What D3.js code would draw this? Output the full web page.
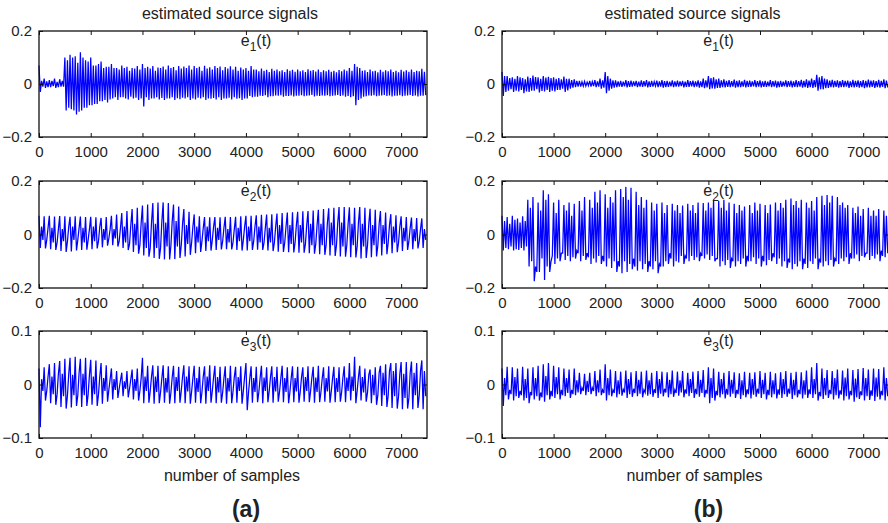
<!DOCTYPE html>
<html>
<head>
<meta charset="utf-8">
<script src="https://cdn.jsdelivr.net/npm/d3@7"></script>
<style>
  body { margin: 0; background: #fff; }
  text { font-family: "Liberation Sans", Arial, sans-serif; fill: #222; }
</style>
</head>
<body>
<script>
// Size of the page
var width = 888,
    height = 523;

// Sample axis ticks
var xTicks = [0, 1000, 2000, 3000, 4000, 5000, 6000, 7000];

// Peaks (hi), troughs (lo), inner swings (mid, dip) of each signal, one set per 100 samples
var e1aHi = [0.07,0.02,0.015,0.02,0.018,0.1,0.11,0.105,0.12,0.09,0.1,0.07,0.085,0.065,0.075,0.06,0.07,0.065,0.06,0.068,
  0.075,0.065,0.068,0.062,0.066,0.07,0.064,0.068,0.066,0.07,0.068,0.065,0.069,0.063,0.068,0.066,0.064,0.067,0.065,0.062,
  0.06,0.068,0.055,0.058,0.054,0.057,0.055,0.052,0.056,0.054,0.055,0.052,0.056,0.053,0.055,0.052,0.054,0.05,0.053,0.055,
  0.06,0.075,0.06,0.052,0.055,0.05,0.054,0.052,0.055,0.05,0.054,0.052,0.055,0.05,0.057];
var e1aLo = [-0.03,-0.015,-0.012,-0.015,-0.01,-0.1,-0.095,-0.115,-0.1,-0.09,-0.08,-0.075,-0.065,-0.07,-0.055,-0.06,-0.05,-0.058,-0.055,-0.06,
  -0.085,-0.06,-0.055,-0.058,-0.06,-0.055,-0.06,-0.057,-0.055,-0.06,-0.058,-0.055,-0.06,-0.056,-0.058,-0.06,-0.055,-0.058,-0.056,-0.06,
  -0.055,-0.05,-0.048,-0.045,-0.05,-0.046,-0.044,-0.048,-0.045,-0.047,-0.044,-0.046,-0.043,-0.047,-0.045,-0.044,-0.046,-0.043,-0.045,-0.048,
  -0.05,-0.08,-0.055,-0.046,-0.044,-0.046,-0.043,-0.045,-0.047,-0.044,-0.046,-0.043,-0.045,-0.047,-0.044];
var e1aMid = [0.012,0.01,0.012,0.008,0.012,0.09,0.1,0.08,0.1,0.085,0.07,0.075,0.06,0.065,0.06,
  0.055,0.06,0.05,0.058,0.055,0.06,0.058,0.05,0.06,0.055,0.06,0.052,0.058,0.06,0.055,0.06,0.05,0.058,0.055,0.06,0.052,0.058,0.055,0.05,0.055,
  0.05,0.055,0.048,0.05,0.045,0.05,0.048,0.045,0.05,0.046,0.048,0.045,0.05,0.047,0.045,0.048,0.046,0.044,0.048,0.05,
  0.05,0.065,0.05,0.045,0.048,0.044,0.046,0.048,0.045,0.044,0.047,0.046,0.045,0.048,0.046];
var e1aDip = [-0.01,-0.012,-0.008,-0.012,-0.01,-0.09,-0.1,-0.105,-0.09,-0.08,-0.075,-0.065,-0.06,-0.058,-0.05,
  -0.05,-0.055,-0.048,-0.052,-0.055,-0.05,-0.055,-0.05,-0.053,-0.055,-0.05,-0.054,-0.052,-0.05,-0.055,-0.052,-0.05,-0.055,-0.053,-0.05,-0.055,-0.052,-0.05,-0.054,-0.055,
  -0.045,-0.048,-0.044,-0.042,-0.046,-0.043,-0.042,-0.045,-0.043,-0.044,-0.042,-0.044,-0.041,-0.044,-0.043,-0.042,-0.044,-0.041,-0.043,-0.045,
  -0.046,-0.06,-0.048,-0.043,-0.042,-0.044,-0.041,-0.043,-0.044,-0.042,-0.044,-0.041,-0.043,-0.044,-0.042];

var e1bHi = [0.045,0.03,0.025,0.03,0.022,0.028,0.032,0.025,0.03,0.027,0.025,0.022,0.028,0.02,0.018,0.012,0.01,0.012,0.015,0.02,
  0.045,0.02,0.014,0.012,0.015,0.013,0.012,0.014,0.015,0.012,0.013,0.015,0.012,0.014,0.013,0.012,0.015,0.013,0.014,0.02,
  0.03,0.025,0.02,0.018,0.015,0.017,0.014,0.016,0.013,0.015,0.014,0.012,0.015,0.013,0.012,0.014,0.013,0.015,0.016,0.018,
  0.02,0.035,0.03,0.018,0.016,0.014,0.015,0.013,0.016,0.014,0.015,0.017,0.014,0.016,0.018];
var e1bLo = [-0.045,-0.025,-0.03,-0.028,-0.035,-0.03,-0.025,-0.032,-0.028,-0.03,-0.028,-0.022,-0.03,-0.018,-0.012,-0.01,-0.008,-0.01,-0.012,-0.018,
  -0.035,-0.018,-0.012,-0.011,-0.013,-0.01,-0.012,-0.011,-0.013,-0.01,-0.012,-0.014,-0.011,-0.012,-0.01,-0.013,-0.011,-0.012,-0.014,-0.016,
  -0.02,-0.018,-0.015,-0.013,-0.012,-0.014,-0.012,-0.013,-0.011,-0.012,-0.013,-0.011,-0.012,-0.014,-0.011,-0.012,-0.013,-0.012,-0.014,-0.015,
  -0.015,-0.025,-0.02,-0.015,-0.013,-0.014,-0.012,-0.015,-0.013,-0.014,-0.016,-0.013,-0.015,-0.014,-0.016];
var e1bMid = [0.03,0.022,0.02,0.025,0.018,0.022,0.026,0.02,0.024,0.022,0.02,0.018,0.02,0.015,0.012,
  0.008,0.007,0.009,0.01,0.014,
  0.03,0.014,0.01,0.009,0.011,0.01,0.009,0.011,0.01,0.009,0.01,0.011,0.009,0.01,0.01,0.009,0.011,0.01,0.01,0.014,
  0.022,0.018,0.014,0.012,0.011,0.012,0.01,0.012,0.01,0.011,0.01,0.009,0.011,0.01,0.009,0.011,0.01,0.011,0.012,0.013,
  0.015,0.025,0.02,0.013,0.012,0.011,0.012,0.01,0.012,0.011,0.012,0.013,0.011,0.012,0.013];
var e1bDip = [-0.03,-0.02,-0.025,-0.022,-0.028,-0.025,-0.02,-0.026,-0.022,-0.025,-0.022,-0.018,-0.024,-0.014,-0.01,
  -0.008,-0.006,-0.008,-0.01,-0.014,
  -0.025,-0.014,-0.01,-0.009,-0.011,-0.008,-0.01,-0.009,-0.011,-0.008,-0.01,-0.012,-0.009,-0.01,-0.008,-0.011,-0.009,-0.01,-0.012,-0.013,
  -0.017,-0.015,-0.012,-0.011,-0.01,-0.012,-0.01,-0.011,-0.009,-0.01,-0.011,-0.009,-0.01,-0.012,-0.009,-0.01,-0.011,-0.01,-0.012,-0.012,
  -0.012,-0.02,-0.016,-0.012,-0.011,-0.012,-0.01,-0.012,-0.011,-0.012,-0.013,-0.011,-0.012,-0.011,-0.013];

var e2aHi = [0.07,0.068,0.07,0.067,0.069,0.068,0.066,0.068,0.067,0.065,0.066,0.064,0.062,0.065,0.07,0.075,0.08,0.088,0.095,0.1,
  0.108,0.112,0.118,0.12,0.12,0.118,0.112,0.105,0.095,0.085,0.075,0.068,0.065,0.064,0.065,0.064,0.066,0.065,0.066,0.068,
  0.07,0.07,0.072,0.074,0.075,0.076,0.078,0.08,0.082,0.083,0.085,0.087,0.088,0.09,0.092,0.095,0.098,0.1,0.103,0.103,
  0.102,0.1,0.103,0.1,0.096,0.092,0.088,0.082,0.076,0.072,0.068,0.065,0.063,0.062,0.06];
var e2aLo = [-0.05,-0.052,-0.055,-0.058,-0.062,-0.065,-0.063,-0.06,-0.058,-0.057,-0.055,-0.052,-0.048,-0.042,-0.04,-0.045,-0.05,-0.058,-0.065,-0.072,
  -0.078,-0.083,-0.088,-0.091,-0.093,-0.093,-0.092,-0.088,-0.082,-0.076,-0.07,-0.065,-0.062,-0.06,-0.058,-0.056,-0.055,-0.056,-0.058,-0.06,
  -0.06,-0.058,-0.057,-0.058,-0.06,-0.062,-0.064,-0.065,-0.066,-0.067,-0.068,-0.068,-0.07,-0.072,-0.074,-0.076,-0.078,-0.08,-0.082,-0.083,
  -0.085,-0.086,-0.09,-0.088,-0.085,-0.082,-0.078,-0.074,-0.07,-0.066,-0.062,-0.058,-0.055,-0.052,-0.05];
var e2aMid = [0.03,-0.02,0.025,-0.03,0.02,-0.025,0.03,-0.02,0.025,-0.02,0.03,-0.025,0.02,-0.015,0.02,
  -0.025,0.03,-0.035,0.04,-0.04,0.045,-0.05,0.04,-0.05,0.045,-0.04,0.05,-0.04,0.035,-0.03,0.03,
  -0.025,0.03,-0.02,0.025,-0.025,0.02,-0.03,0.025,-0.02,0.03,-0.025,0.03,-0.03,0.025,-0.03,0.035,-0.03,0.035,-0.03,0.035,
  -0.035,0.04,-0.035,0.04,-0.04,0.045,-0.04,0.045,-0.04,0.04,-0.045,0.04,-0.04,0.035,-0.04,0.035,-0.03,0.03,-0.03,0.025,-0.025,0.02,-0.025,0.02];
var e2aDip = [-0.02,0.025,-0.03,0.02,-0.025,0.03,-0.02,0.025,-0.03,0.02,-0.025,0.03,-0.02,0.02,-0.015,
  0.025,-0.03,0.035,-0.04,0.045,-0.05,0.045,-0.05,0.05,-0.045,0.05,-0.045,0.04,-0.035,0.03,-0.03,
  0.025,-0.025,0.03,-0.02,0.025,-0.03,0.02,-0.025,0.03,-0.025,0.03,-0.03,0.025,-0.03,0.03,-0.035,0.03,-0.035,0.035,-0.03,
  0.035,-0.04,0.035,-0.04,0.045,-0.04,0.045,-0.045,0.04,-0.04,0.045,-0.045,0.04,-0.04,0.04,-0.035,0.035,-0.03,0.03,-0.025,0.025,-0.025,0.02,-0.02];

var e2bHi = [0.07,0.065,0.07,0.06,0.068,0.13,0.14,0.12,0.165,0.15,0.12,0.13,0.11,0.12,0.115,0.125,0.14,0.13,0.16,0.165,
  0.15,0.14,0.165,0.17,0.178,0.175,0.16,0.14,0.13,0.12,0.115,0.12,0.11,0.115,0.11,0.108,0.115,0.11,0.12,0.118,
  0.12,0.13,0.125,0.13,0.12,0.115,0.11,0.105,0.11,0.12,0.115,0.11,0.112,0.12,0.118,0.13,0.135,0.125,0.13,0.12,
  0.125,0.14,0.145,0.148,0.145,0.14,0.12,0.11,0.1,0.105,0.095,0.1,0.09,0.095,0.09];
var e2bLo = [-0.06,-0.055,-0.06,-0.058,-0.06,-0.12,-0.175,-0.14,-0.17,-0.14,-0.11,-0.1,-0.095,-0.1,-0.09,-0.1,-0.095,-0.11,-0.105,-0.11,
  -0.12,-0.125,-0.14,-0.145,-0.14,-0.13,-0.135,-0.13,-0.14,-0.13,-0.145,-0.12,-0.11,-0.12,-0.105,-0.11,-0.1,-0.095,-0.1,-0.09,
  -0.095,-0.1,-0.12,-0.115,-0.125,-0.12,-0.11,-0.12,-0.1,-0.11,-0.12,-0.115,-0.1,-0.11,-0.12,-0.125,-0.13,-0.12,-0.13,-0.125,
  -0.11,-0.13,-0.12,-0.115,-0.12,-0.11,-0.1,-0.11,-0.09,-0.1,-0.085,-0.095,-0.09,-0.1,-0.085];
var e2bMid = [0.05,0.04,0.055,0.045,0.05,
  0.1,-0.12,0.09,0.13,-0.1,0.08,-0.07,0.09,0.07,-0.06,
  0.09,-0.07,0.1,0.12,-0.08,0.1,0.12,-0.1,0.14,0.13,-0.09,0.11,0.1,-0.1,0.09,-0.11,
  0.08,-0.07,0.09,0.08,-0.08,0.09,0.08,-0.07,0.09,0.1,-0.09,0.1,0.09,-0.09,0.08,0.09,-0.08,0.08,0.09,-0.08,
  0.08,-0.07,0.09,0.1,-0.09,0.11,0.1,-0.09,0.1,0.09,-0.09,0.11,0.12,-0.09,0.11,0.1,-0.07,0.08,0.07,-0.07,0.07,0.07,-0.06,0.07];
var e2bDip = [-0.05,-0.045,-0.055,-0.05,-0.045,
  -0.1,-0.14,-0.09,-0.12,-0.08,-0.09,-0.07,-0.08,-0.085,-0.07,
  -0.08,-0.085,-0.09,-0.08,-0.1,-0.09,-0.1,-0.12,-0.1,-0.11,-0.12,-0.1,-0.11,-0.12,-0.1,-0.12,
  -0.1,-0.09,-0.1,-0.08,-0.09,-0.08,-0.085,-0.08,-0.075,-0.08,-0.09,-0.1,-0.095,-0.1,-0.1,-0.09,-0.1,-0.085,-0.09,-0.1,
  -0.095,-0.085,-0.09,-0.1,-0.105,-0.11,-0.1,-0.11,-0.1,-0.09,-0.105,-0.1,-0.095,-0.1,-0.09,-0.085,-0.09,-0.075,-0.08,-0.07,-0.08,-0.075,-0.08,-0.07];

var e3aHi = [0.03,0.032,0.038,0.04,0.044,0.048,0.05,0.052,0.048,0.05,0.046,0.045,0.04,0.036,0.03,0.025,0.022,0.025,0.028,0.03,
  0.05,0.035,0.036,0.035,0.036,0.034,0.035,0.033,0.036,0.034,0.035,0.033,0.034,0.036,0.035,0.033,0.034,0.035,0.033,0.034,
  0.04,0.034,0.033,0.035,0.032,0.034,0.033,0.035,0.032,0.034,0.033,0.032,0.034,0.033,0.035,0.032,0.034,0.033,0.032,0.034,
  0.04,0.052,0.035,0.03,0.028,0.032,0.035,0.038,0.04,0.04,0.042,0.042,0.043,0.04,0.045];
var e3aLo = [-0.08,-0.03,-0.035,-0.038,-0.042,-0.045,-0.043,-0.04,-0.042,-0.04,-0.038,-0.04,-0.036,-0.032,-0.028,-0.025,-0.022,-0.024,-0.028,-0.03,
  -0.035,-0.034,-0.036,-0.035,-0.034,-0.036,-0.035,-0.034,-0.035,-0.036,-0.034,-0.035,-0.036,-0.034,-0.035,-0.034,-0.036,-0.035,-0.034,-0.036,
  -0.048,-0.034,-0.033,-0.035,-0.033,-0.034,-0.032,-0.033,-0.035,-0.033,-0.034,-0.032,-0.033,-0.034,-0.033,-0.032,-0.034,-0.033,-0.032,-0.033,
  -0.03,-0.035,-0.03,-0.032,-0.035,-0.038,-0.04,-0.042,-0.044,-0.045,-0.046,-0.045,-0.046,-0.044,-0.046];
var e3aMid = [0.01,-0.012,0.015,-0.018,0.02,-0.02,0.018,-0.02,0.02,-0.018,0.015,-0.018,0.012,-0.01,0.01,-0.008,0.006,-0.008,0.01,-0.012,
  0.015,-0.012,0.015,-0.014,0.012,-0.015,0.014,-0.012,0.015,-0.013,0.012,-0.014,0.015,-0.012,0.014,-0.015,0.012,-0.013,0.014,-0.012,
  -0.015,0.012,-0.014,0.013,-0.012,0.014,-0.013,0.012,-0.014,0.012,-0.013,0.014,-0.012,0.013,-0.014,0.012,-0.013,0.012,-0.014,0.013,
  0.015,-0.012,0.014,-0.015,0.018,-0.02,0.022,-0.02,0.025,-0.022,0.02,-0.025,0.022,-0.02,0.025];
var e3aDip = [-0.012,0.015,-0.018,0.02,-0.022,0.02,-0.02,0.022,-0.02,0.018,-0.018,0.015,-0.012,0.01,-0.01,0.008,-0.008,0.01,-0.012,0.012,
  -0.012,0.015,-0.014,0.012,-0.015,0.014,-0.012,0.015,-0.013,0.012,-0.014,0.015,-0.012,0.014,-0.015,0.012,-0.013,0.014,-0.012,0.015,
  0.012,-0.014,0.013,-0.012,0.014,-0.013,0.012,-0.014,0.012,-0.013,0.014,-0.012,0.013,-0.014,0.012,-0.013,0.012,-0.014,0.013,-0.012,
  -0.012,0.014,-0.015,0.018,-0.02,0.022,-0.02,0.025,-0.022,0.02,-0.025,0.022,-0.02,0.025,-0.022];

var e3bHi = [0.03,0.033,0.032,0.03,0.033,0.03,0.032,0.035,0.038,0.04,0.035,0.032,0.03,0.028,0.03,0.022,0.02,0.022,0.025,0.028,
  0.038,0.028,0.025,0.024,0.026,0.023,0.025,0.024,0.026,0.022,0.025,0.024,0.023,0.026,0.024,0.025,0.022,0.024,0.025,0.027,
  0.032,0.03,0.024,0.022,0.025,0.023,0.021,0.024,0.022,0.023,0.025,0.022,0.024,0.021,0.023,0.025,0.022,0.024,0.023,0.026,
  0.032,0.04,0.03,0.027,0.025,0.028,0.026,0.03,0.027,0.029,0.031,0.028,0.03,0.029,0.032];
var e3bLo = [-0.04,-0.028,-0.03,-0.025,-0.03,-0.035,-0.028,-0.03,-0.032,-0.028,-0.025,-0.028,-0.022,-0.025,-0.02,-0.018,-0.02,-0.018,-0.022,-0.02,
  -0.03,-0.022,-0.024,-0.021,-0.025,-0.023,-0.022,-0.024,-0.021,-0.023,-0.025,-0.022,-0.024,-0.023,-0.021,-0.024,-0.022,-0.025,-0.023,-0.024,
  -0.035,-0.03,-0.024,-0.026,-0.023,-0.025,-0.027,-0.024,-0.026,-0.023,-0.025,-0.028,-0.024,-0.026,-0.025,-0.023,-0.027,-0.024,-0.026,-0.025,
  -0.025,-0.03,-0.027,-0.025,-0.028,-0.026,-0.03,-0.028,-0.032,-0.027,-0.03,-0.029,-0.031,-0.028,-0.03];
var e3bMid = [0.012,-0.01,0.014,-0.012,0.01,-0.014,0.012,-0.015,0.016,-0.012,0.014,-0.01,0.012,-0.01,0.008,-0.006,0.007,-0.006,0.008,-0.01,
  0.012,-0.01,0.008,-0.009,0.01,-0.008,0.009,-0.01,0.008,-0.009,0.01,-0.008,0.009,-0.01,0.008,-0.009,0.01,-0.008,0.009,-0.01,
  0.012,-0.012,0.01,-0.008,0.009,-0.01,0.008,-0.009,0.01,-0.008,0.009,-0.01,0.008,-0.009,0.01,-0.008,0.009,-0.01,0.008,-0.009,
  0.01,-0.014,0.012,-0.01,0.012,-0.011,0.013,-0.012,0.011,-0.013,0.012,-0.011,0.013,-0.012,0.012];
var e3bDip = [-0.02,-0.018,-0.022,-0.02,-0.025,-0.02,-0.022,-0.024,-0.02,-0.022,-0.018,-0.02,-0.016,-0.018,-0.015,-0.012,-0.014,-0.012,-0.015,-0.016,
  -0.02,-0.016,-0.018,-0.015,-0.018,-0.016,-0.017,-0.015,-0.018,-0.016,-0.017,-0.015,-0.018,-0.016,-0.015,-0.017,-0.016,-0.018,-0.016,-0.017,
  -0.025,-0.02,-0.018,-0.019,-0.017,-0.018,-0.02,-0.018,-0.019,-0.017,-0.018,-0.02,-0.018,-0.019,-0.018,-0.017,-0.02,-0.018,-0.019,-0.018,
  -0.018,-0.022,-0.02,-0.018,-0.02,-0.019,-0.022,-0.02,-0.024,-0.02,-0.022,-0.021,-0.023,-0.02,-0.022];

// Panel layout: two columns, three rows
var columns = [
  {left: 39, right: 427, tag: "(a)",
   signals: [[e1aHi, e1aLo, e1aMid, e1aDip], [e2aHi, e2aLo, e2aMid, e2aDip], [e3aHi, e3aLo, e3aMid, e3aDip]]},
  {left: 502, right: 889, tag: "(b)",
   signals: [[e1bHi, e1bLo, e1bMid, e1bDip], [e2bHi, e2bLo, e2bMid, e2bDip], [e3bHi, e3bLo, e3bMid, e3bDip]]}
];
var rows = [
  {top: 31, bottom: 137, ymax: 0.2, yTicks: [-0.2, 0, 0.2], label: "1"},
  {top: 181, bottom: 288, ymax: 0.2, yTicks: [-0.2, 0, 0.2], label: "2"},
  {top: 331, bottom: 438, ymax: 0.1, yTicks: [-0.1, 0, 0.1], label: "3"}
];

var svg = d3.select("body").append("svg")
    .attr("width", width)
    .attr("height", height);

// Turn the per-cycle arrays into the point sequence of the trace
function toPoints(s) {
  var pts = [];
  var step = 100 / s.length;
  for (var i = 0; i < s[0].length; i++) {
    for (var k = 0; k < s.length; k++) {
      pts.push([i * 100 + k * step, s[k][i]]);
    }
  }
  return pts;
}

columns.forEach(function(col, ci) {
  var x = d3.scaleLinear().domain([0, 7500]).range([col.left, col.right]);

  rows.forEach(function(row, ri) {
    var y = d3.scaleLinear().domain([-row.ymax, row.ymax]).range([row.bottom, row.top]);
    var g = svg.append("g");

    // signal
    var line = d3.line().x(function(d) { return x(d[0]); }).y(function(d) { return y(d[1]); });
    g.append("path")
      .datum(toPoints(col.signals[ri]))
      .attr("fill", "none")
      .attr("stroke", "#0000ff")
      .attr("stroke-width", 1.25)
      .attr("d", line);

    // axes with inward ticks, on all sides
    g.append("g")
      .attr("transform", "translate(0," + row.bottom + ")")
      .call(d3.axisBottom(x).tickValues(xTicks).tickSize(-4).tickPadding(9).tickFormat(d3.format("d")));
    g.append("g")
      .attr("transform", "translate(0," + row.top + ")")
      .call(d3.axisTop(x).tickValues(xTicks).tickSize(-4).tickFormat(""));
    g.append("g")
      .attr("transform", "translate(" + col.left + ",0)")
      .call(d3.axisLeft(y).tickValues(row.yTicks).tickSize(-4).tickPadding(7)
        .tickFormat(function(d) { return d === 0 ? "0" : d3.format(".1f")(d); }));
    g.append("g")
      .attr("transform", "translate(" + col.right + ",0)")
      .call(d3.axisRight(y).tickValues(row.yTicks).tickSize(-4).tickFormat(""));

    g.selectAll(".domain").remove();
    g.selectAll(".tick line").attr("stroke", "#111").attr("stroke-width", 1);
    g.selectAll(".tick text").attr("font-size", 15).attr("fill", "#222")
      .attr("font-family", "'Liberation Sans', Arial, sans-serif");

    g.append("rect")
      .attr("x", col.left).attr("y", row.top)
      .attr("width", col.right - col.left).attr("height", row.bottom - row.top)
      .attr("fill", "none").attr("stroke", "#111").attr("stroke-width", 1.3);

    // e_k(t) label
    var lab = g.append("text")
      .attr("x", x(3900))
      .attr("y", row.top + 15)
      .attr("font-size", 16);
    lab.append("tspan").text("e");
    lab.append("tspan").attr("font-size", 12).attr("dy", 5).text(row.label);
    lab.append("tspan").attr("dy", -5).text("(t)");
  });

  var mid = (col.left + col.right) / 2 + 13;
  svg.append("text")
    .attr("x", (col.left + col.right) / 2 - 3).attr("y", 19)
    .attr("text-anchor", "middle").attr("font-size", 16)
    .text("estimated source signals");
  svg.append("text")
    .attr("x", (col.left + col.right) / 2 - 1).attr("y", 481)
    .attr("text-anchor", "middle").attr("font-size", 16)
    .text("number of samples");
  svg.append("text")
    .attr("x", mid).attr("y", 517)
    .attr("text-anchor", "middle").attr("font-size", 23).attr("font-weight", "bold")
    .attr("fill", "#111")
    .text(col.tag);
});
</script>
</body>
</html>
